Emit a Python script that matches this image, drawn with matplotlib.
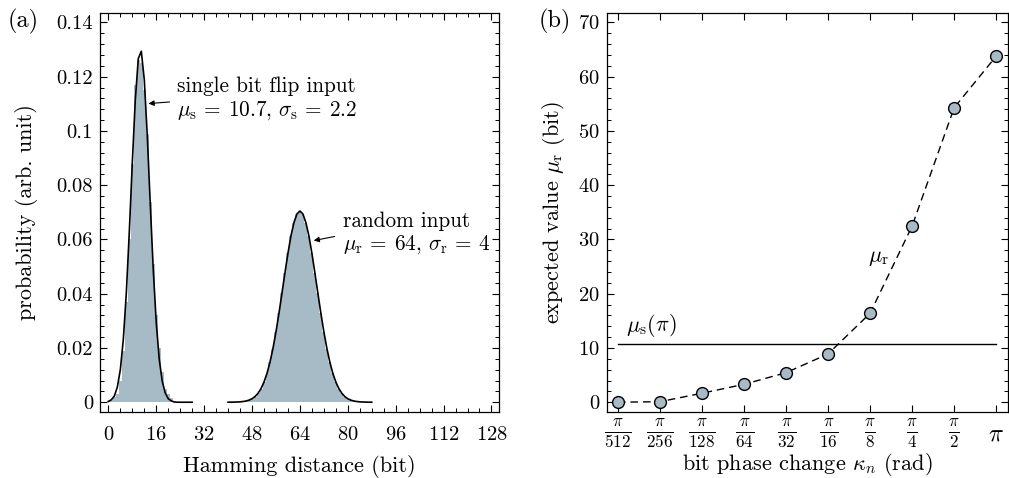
import matplotlib

matplotlib.use("Agg")
import matplotlib.pyplot as plt
import numpy as np
from matplotlib.ticker import MultipleLocator
from matplotlib.transforms import ScaledTranslation

plt.rcParams["font.family"] = "serif"
plt.rcParams["font.serif"] = ["cmr10", "DejaVu Serif"]
plt.rcParams["mathtext.fontset"] = "cm"
plt.rcParams["axes.formatter.use_mathtext"] = True
plt.rcParams["font.size"] = 15

FILL = "#a7bbc7"

# (a) histogram of Hamming distances, width-1 bins
single_bins = list(range(0, 23))
single_hist = [0.0005, 0.001, 0.002, 0.003, 0.008, 0.019, 0.037, 0.060, 0.088, 0.117,
               0.126, 0.125, 0.115, 0.099, 0.074, 0.051, 0.032, 0.020, 0.011, 0.005,
               0.003, 0.0016, 0.0004]
random_bins = list(range(42, 87))
random_hist = [0.00003, 0.00006, 0.00013, 0.00026, 0.00045, 0.00078, 0.0013, 0.0021,
               0.0033, 0.0050, 0.0074, 0.0106, 0.0148, 0.0198, 0.0259, 0.0328, 0.0402,
               0.0477, 0.0549, 0.0613, 0.0662, 0.0694, 0.0705, 0.0694, 0.0662, 0.0613,
               0.0549, 0.0477, 0.0402, 0.0328, 0.0259, 0.0198, 0.0148, 0.0106, 0.0074,
               0.0050, 0.0033, 0.0021, 0.0013, 0.00078, 0.00045, 0.00026, 0.00013,
               0.00006, 0.00003]

# fitted curves
single_x = list(range(0, 29))
single_fit = [0.0003, 0.0009, 0.0023, 0.0056, 0.012, 0.0232, 0.0403, 0.0629, 0.0883,
              0.1115, 0.1267, 0.1294, 0.1189, 0.0982, 0.0730, 0.0488, 0.0293, 0.0158,
              0.0077, 0.0034, 0.0013, 0.0005, 0.0001, 0.0, 0.0, 0.0, 0.0, 0.0, 0.0]
random_x = list(range(40, 89))
random_fit = [0.00001, 0.00002, 0.00004, 0.00008, 0.00014, 0.00026, 0.00045, 0.00077,
              0.00129, 0.00209, 0.0033, 0.00503, 0.00743, 0.01064, 0.01478, 0.01988,
              0.02594, 0.0328, 0.0402, 0.0477, 0.0549, 0.0613, 0.0662, 0.0694, 0.0705,
              0.0694, 0.0662, 0.0613, 0.0549, 0.0477, 0.0402, 0.0328, 0.02594, 0.01988,
              0.01478, 0.01064, 0.00743, 0.00503, 0.0033, 0.00209, 0.00129, 0.00077,
              0.00045, 0.00026, 0.00014, 0.00008, 0.00004, 0.00002, 0.00001]

a_xticks = [0, 16, 32, 48, 64, 80, 96, 112, 128]
a_yticks = [0, 0.02, 0.04, 0.06, 0.08, 0.1, 0.12, 0.14]
a_ylabels = ["0", "0.02", "0.04", "0.06", "0.08", "0.1", "0.12", "0.14"]

# (b) expected value vs bit phase change
kappa_labels = [r"$\frac{\pi}{512}$", r"$\frac{\pi}{256}$", r"$\frac{\pi}{128}$",
                r"$\frac{\pi}{64}$", r"$\frac{\pi}{32}$", r"$\frac{\pi}{16}$",
                r"$\frac{\pi}{8}$", r"$\frac{\pi}{4}$", r"$\frac{\pi}{2}$", r"$\pi$"]
mu_r = [0.0, 0.1, 1.66, 3.3, 5.45, 8.9, 16.4, 32.5, 54.3, 63.8]
mu_s_pi = 10.7

fig = plt.figure(figsize=(10.09, 4.78), dpi=100)
ax1 = fig.add_axes([0.0991, 0.1381, 0.3954, 0.8347])
ax2 = fig.add_axes([0.6016, 0.1381, 0.3974, 0.8347])

for ax in (ax1, ax2):
    ax.tick_params(which="both", direction="in", top=True, right=True, labelsize=14.8)
    ax.tick_params(which="major", length=5, width=0.8, pad=5)
    ax.tick_params(which="minor", length=3, width=0.7)
    for s in ax.spines.values():
        s.set_linewidth(0.9)

# panel (a)
ax1.bar(single_bins, single_hist, width=1.0, color=FILL, linewidth=0)
ax1.bar(random_bins, random_hist, width=1.0, color=FILL, linewidth=0)
ax1.plot(single_x, single_fit, color="k", lw=1.2)
ax1.plot(random_x, random_fit, color="k", lw=1.2)
ax1.set_xlim(-2.8, 130.5)
ax1.set_ylim(-0.0036, 0.1435)
ax1.set_xticks(a_xticks)
ax1.xaxis.set_minor_locator(MultipleLocator(4))
ax1.set_yticks(a_yticks)
ax1.set_yticklabels(a_ylabels)
ax1.yaxis.set_minor_locator(MultipleLocator(0.004))
ax1.tick_params(axis="x", which="major", pad=10)
ax1.set_xlabel("Hamming distance (bit)", fontsize=16, labelpad=8)
ax1.set_ylabel("probability (arb. unit)", fontsize=16, labelpad=13)

arrow = dict(arrowstyle="-|>", color="k", lw=0.8, mutation_scale=8, shrinkA=0, shrinkB=0)
ax1.annotate("", xy=(13.4, 0.1101), xytext=(20.4, 0.1107), arrowprops=arrow)
ax1.text(22.9, 0.1117, "single bit flip input\n"
         r"$\mu_\mathrm{s}\,=\:10.7,\,\sigma_\mathrm{s}\,=\:2.2$",
         ha="left", va="center", fontsize=15.3, linespacing=1.15)
ax1.annotate("", xy=(68.6, 0.0596), xytext=(75.6, 0.0611), arrowprops=arrow)
ax1.text(78.3, 0.0620, "random input\n"
         r"$\mu_\mathrm{r}\,=\:64,\,\sigma_\mathrm{r}\,=\:4$",
         ha="left", va="center", fontsize=15.3, linespacing=1.15)
fig.text(0.008, 0.955, "(a)", fontsize=17.5, ha="left", va="center")

# panel (b)
xb = np.arange(len(mu_r))
ax2.plot([xb[0], xb[-1]], [mu_s_pi, mu_s_pi], color="k", lw=1.0)
ax2.plot(xb, mu_r, ls=(0, (5.5, 3.5)), color="k", lw=1.0, marker="o", ms=8.5,
         mfc=FILL, mec="k", mew=1.0)
ax2.set_xlim(-0.26, 9.28)
ax2.set_ylim(-1.8, 71.75)
ax2.set_xticks(xb)
ax2.set_xticklabels(kappa_labels, fontsize=17.5)
ax2.tick_params(axis="x", which="major", pad=4)
pi_label = ax2.get_xticklabels()[-1]
pi_label.set_transform(pi_label.get_transform()
                       + ScaledTranslation(0, -4 / 72, fig.dpi_scale_trans))
ax2.set_yticks(range(0, 71, 10))
ax2.yaxis.set_minor_locator(MultipleLocator(2))
ax2.set_xlabel(r"bit phase change $\kappa_n$ (rad)", fontsize=16, labelpad=1)
ax2.set_ylabel(r"expected value $\mu_\mathrm{r}$ (bit)", fontsize=16, labelpad=8)
ax2.text(6.2, 26.6, r"$\mu_\mathrm{r}$", fontsize=16, ha="center", va="center")
ax2.text(0.2, 11.6, r"$\mu_\mathrm{s}(\pi)$", fontsize=16, ha="left", va="bottom")
fig.text(0.534, 0.955, "(b)", fontsize=17.5, ha="left", va="center")

fig.savefig("out.png", dpi=100)
